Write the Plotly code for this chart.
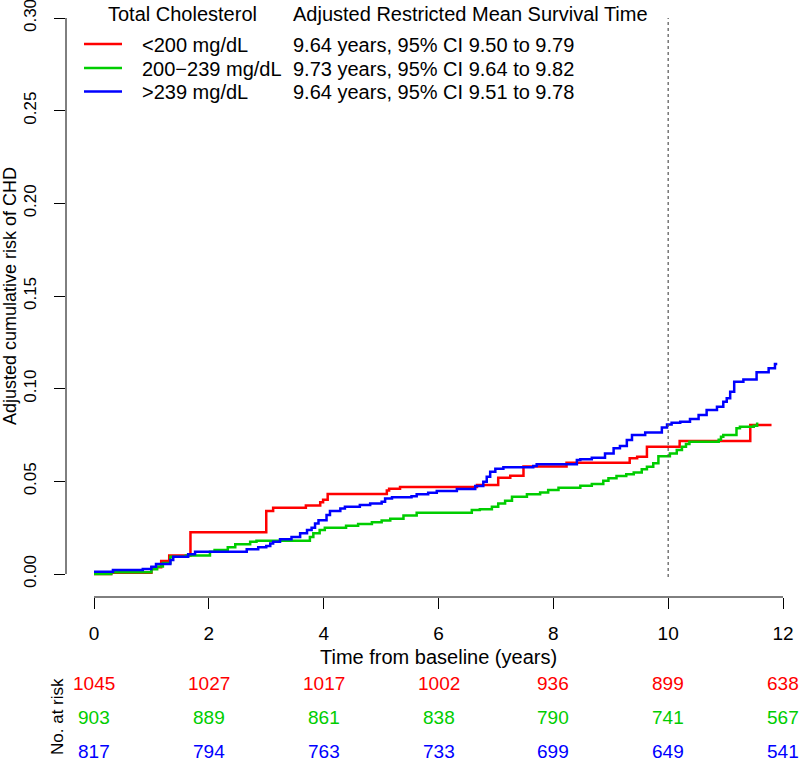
import plotly.graph_objects as go

# ---------------- data ----------------
red_t = [0, 0.3, 1.0, 1.17, 1.31, 1.68, 3.0, 3.12, 3.69, 3.94, 3.99, 4.07, 5.1, 5.14, 5.33,
         6.67, 7.04, 7.25, 7.48, 8.23, 9.33, 9.46, 9.63, 10.2, 11.43, 11.8]
red_v = [0.0, 0.0007, 0.0036, 0.007, 0.010, 0.0225, 0.034, 0.0358, 0.037, 0.0387, 0.040, 0.0431,
         0.045, 0.046, 0.047, 0.048, 0.052, 0.053, 0.058, 0.060, 0.0624, 0.0633, 0.0687, 0.0717,
         0.0804, 0.0804]

green_t = [0, 0.3, 1.0, 1.1, 1.2, 1.33, 1.6, 2.02, 2.1, 2.33, 2.46, 2.72, 2.83, 3.76, 3.82, 3.93,
           4.02, 4.39, 4.6, 4.84, 5.01, 5.16, 5.39, 5.62, 6.58, 6.72, 6.93, 7.04, 7.16, 7.28, 7.54,
           7.77, 7.91, 8.09, 8.47, 8.67, 8.87, 8.96, 9.1, 9.27, 9.4, 9.54, 9.63, 9.74, 9.83, 10.03,
           10.15, 10.24, 10.31, 10.37, 10.88, 10.92, 10.96, 11.19, 11.25, 11.49, 11.55]
green_v = [0.0, 0.001, 0.0025, 0.004, 0.006, 0.0093, 0.010, 0.012, 0.013, 0.0144, 0.016, 0.0174,
           0.018, 0.020, 0.022, 0.0237, 0.025, 0.026, 0.027, 0.0279, 0.0288, 0.0298, 0.0316, 0.033,
           0.0345, 0.035, 0.0363, 0.038, 0.0395, 0.0417, 0.043, 0.044, 0.0453, 0.0466, 0.0476,
           0.0485, 0.0503, 0.0516, 0.0529, 0.0538, 0.0548, 0.0565, 0.0579, 0.0597, 0.0636, 0.065,
           0.0669, 0.0687, 0.0701, 0.0714, 0.0725, 0.074, 0.075, 0.0786, 0.0795, 0.080, 0.0818]

blue_t = [0, 0.33, 0.85, 1.0, 1.08, 1.33, 1.38, 1.64, 1.76, 2.66, 2.86, 3.0, 3.07, 3.12, 3.24,
          3.44, 3.59, 3.71, 3.79, 3.85, 3.91, 4.05, 4.11, 4.29, 4.37, 4.63, 4.81, 5.01, 5.07, 5.19,
          5.53, 5.62, 5.82, 5.97, 6.32, 6.64, 6.78, 6.84, 6.9, 6.99, 7.13, 7.65, 7.71, 8.41, 8.47,
          8.67, 8.9, 9.05, 9.16, 9.28, 9.37, 9.6, 9.89, 9.98, 10.06, 10.21, 10.38, 10.53, 10.67,
          10.85, 10.96, 11.02, 11.08, 11.15, 11.31, 11.54, 11.75, 11.86, 11.9]
blue_v = [0.0012, 0.0022, 0.0027, 0.0039, 0.0054, 0.0076, 0.0093, 0.0106, 0.012, 0.0133, 0.0144,
          0.0151, 0.0165, 0.0174, 0.0187, 0.020, 0.022, 0.0237, 0.025, 0.0273, 0.029, 0.0318,
          0.034, 0.0354, 0.0363, 0.0372, 0.038, 0.039, 0.0408, 0.0414, 0.042, 0.043, 0.0439,
          0.0448, 0.0459, 0.0475, 0.0498, 0.0525, 0.0552, 0.0568, 0.0576, 0.0583, 0.0592, 0.0615,
          0.0619, 0.0627, 0.065, 0.0678, 0.069, 0.0723, 0.075, 0.0764, 0.0791, 0.0807, 0.0816,
          0.0821, 0.0836, 0.0858, 0.0885, 0.0902, 0.093, 0.0948, 0.0983, 0.1037, 0.105, 0.1088,
          0.111, 0.1133, 0.1133]

group_labels = ["<200 mg/dL", "200\u2212239 mg/dL", ">239 mg/dL"]
rmst_labels = ["9.64 years, 95% CI 9.50 to 9.79",
               "9.73 years, 95% CI 9.64 to 9.82",
               "9.64 years, 95% CI 9.51 to 9.78"]
colors = ["#FF0000", "#00CD00", "#0000FF"]

risk_times = [0, 2, 4, 6, 8, 10, 12]
risk_red = [1045, 1027, 1017, 1002, 936, 899, 638]
risk_green = [903, 889, 861, 838, 790, 741, 567]
risk_blue = [817, 794, 763, 733, 699, 649, 541]

x_ticks = [0, 2, 4, 6, 8, 10, 12]
y_ticks = [0.00, 0.05, 0.10, 0.15, 0.20, 0.25, 0.30]
ref_time = 10

# ---------------- layout geometry (pixels) ----------------
W, H = 800, 763
L, B = 66, 166          # plot area: x 66..800, y 0..597
PW, PH = W - L, H - B
FONT = "Liberation Sans, Arial, Helvetica, sans-serif"


def px(x):
    return (x - L) / PW


def py(y):
    return (PH - y) / PH


fig = go.Figure()
for t, v, c in zip([red_t, green_t, blue_t], [red_v, green_v, blue_v], colors):
    fig.add_trace(go.Scatter(x=t, y=v, mode="lines", line=dict(color=c, width=2.5, shape="hv"),
                             showlegend=False, hoverinfo="skip"))

shapes = []
# axis lines (R style, detached)
shapes.append(dict(type="line", xref="x", yref="paper", x0=x_ticks[0], x1=x_ticks[-1], y0=0, y1=0,
                   line=dict(color="black", width=1)))
shapes.append(dict(type="line", xref="paper", yref="y", x0=0, x1=0, y0=y_ticks[0], y1=y_ticks[-1],
                   line=dict(color="black", width=1)))
# reference vertical dotted line
shapes.append(dict(type="line", xref="x", yref="y", x0=ref_time, x1=ref_time, y0=-0.0016,
                   y1=y_ticks[-1], line=dict(color="#555555", width=1.2, dash="dot")))
# legend lines
leg_y = [44, 68, 91.5]
for yy, c in zip(leg_y, colors):
    shapes.append(dict(type="line", xref="paper", yref="paper", x0=px(84), x1=px(122),
                       y0=py(yy), y1=py(yy), line=dict(color=c, width=2.5)))

ann = []


def text(x, y, s, size=20, color="black", xanchor="left", xref="paper", angle=0):
    ann.append(dict(x=x, y=y, xref=xref, yref="paper", text=s, showarrow=False,
                    xanchor=xanchor, yanchor="middle", textangle=angle,
                    font=dict(family=FONT, size=size, color=color)))


text(px(106), py(14), "Total Cholesterol")
text(px(291), py(14), "Adjusted Restricted Mean Survival Time")
for yy, g, r in zip([45, 69, 92.5], group_labels, rmst_labels):
    text(px(140), py(yy), g)
    text(px(291), py(yy), r)

# axis titles
text(6, py(657), "Time from baseline (years)", size=20, xanchor="center", xref="x")
ann.append(dict(x=px(10), y=0.15, xref="paper", yref="y", text="Adjusted cumulative risk of CHD",
                showarrow=False, xanchor="center", yanchor="middle", textangle=-90,
                font=dict(family=FONT, size=18, color="black")))

# number at risk table
for yy, vals, c in zip([683, 717, 751], [risk_red, risk_green, risk_blue], colors):
    for t, n in zip(risk_times, vals):
        text(t, py(yy), str(n), size=19, color=c, xanchor="center", xref="x")
text(px(57), py(717), "No. at risk", size=17, xanchor="center", angle=-90)

ppu_x = (783 - 94) / 12.0
ppu_y = (574 - 18) / 0.30
x0 = -(94 - L) / ppu_x
x1 = x0 + PW / ppu_x
y0 = -(PH - 574) / ppu_y
y1 = 0.30 + 18 / ppu_y

fig.update_layout(
    width=W, height=H,
    margin=dict(l=L, r=0, t=0, b=B, pad=0),
    paper_bgcolor="white", plot_bgcolor="white",
    shapes=shapes, annotations=ann,
    xaxis=dict(range=[x0, x1], tickvals=x_ticks, ticktext=[str(v) for v in x_ticks],
               ticks="outside", ticklen=11, tickwidth=1, tickcolor="black",
               showgrid=False, zeroline=False, showline=False, ticklabelstandoff=8,
               ticklabeloverflow="allow",
               tickfont=dict(family=FONT, size=19, color="black")),
    yaxis=dict(range=[y0, y1], tickvals=y_ticks, ticktext=["%.2f" % v for v in y_ticks],
               ticks="outside", ticklen=11, tickwidth=1, tickcolor="black", tickangle=-90,
               showgrid=False, zeroline=False, showline=False, ticklabelstandoff=11,
               ticklabeloverflow="allow",
               tickfont=dict(family=FONT, size=17, color="black")),
)

fig.write_html("out.html", config={"displayModeBar": False},
               post_script="document.body.style.margin='0px';document.body.style.overflow='hidden';")
